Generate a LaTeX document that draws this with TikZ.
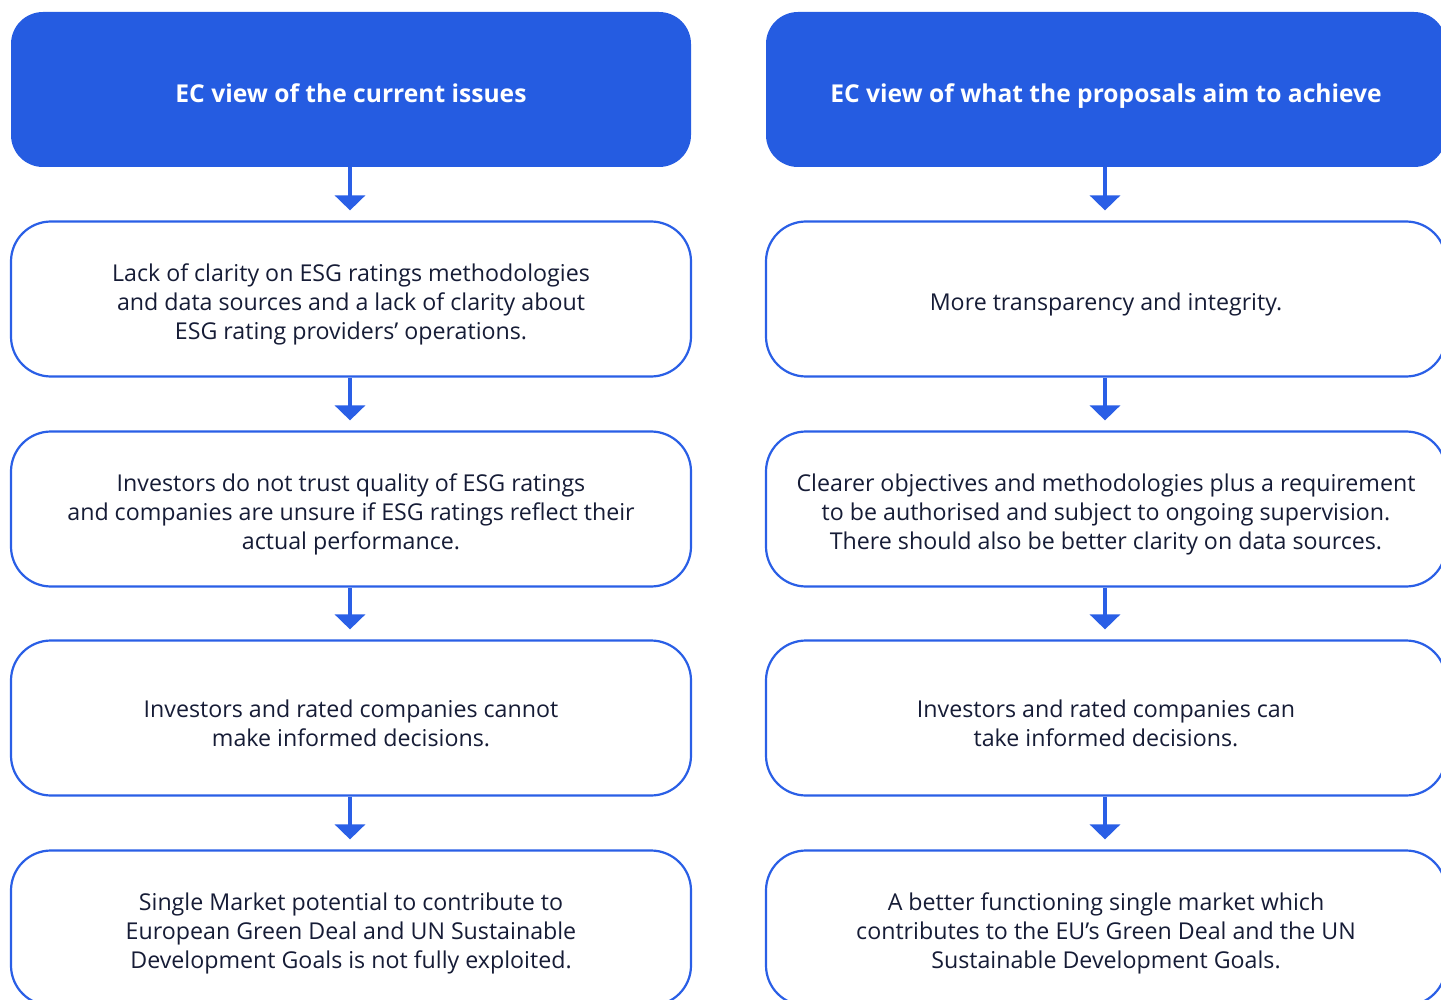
\documentclass[tikz,border=0pt]{standalone}
\usepackage{fontspec}
\setmainfont{Open Sans}
\usetikzlibrary{arrows.meta}
\definecolor{ecblue}{HTML}{255CE1}
\definecolor{ecline}{HTML}{2A5FE6}
\definecolor{ectext}{HTML}{161C36}
\begin{document}
\begin{tikzpicture}[x=1pt,y=-1pt,
  head/.style={fill=ecblue, draw=none, rounded corners=32pt, minimum width=680pt, minimum height=155pt, inner sep=0pt},
  headtxt/.style={text=white, font=\fontsize{24.6}{29}\selectfont\bfseries, align=center, inner sep=0pt, text depth=0pt},
  body/.style={fill=white, draw=ecline, line width=2.2pt, rounded corners=40pt, minimum width=680pt, minimum height=155pt, inner sep=0pt},
  bodytxt/.style={text=ectext, font=\fontsize{23.2}{29}\selectfont, align=center, inner sep=0pt},
  conn/.style={draw=ecline, line width=3.5pt, -{Triangle[width=30pt,length=15pt]}, shorten >=10pt}]
\useasboundingbox (0,0) rectangle (1441,1000);
\clip (0,0) rectangle (1441,1000);
\node[head] (L0) at (351,89.5) {};
\node[head] (R0) at (1106,89.5) {};
\node[body] (L1) at (351,299) {};
\node[body] (L2) at (351,509) {};
\node[body] (L3) at (351,718) {};
\node[body] (L4) at (351,928) {};
\node[body] (R1) at (1106,299) {};
\node[body] (R2) at (1106,509) {};
\node[body] (R3) at (1106,718) {};
\node[body] (R4) at (1106,928) {};
\node[headtxt] (L0t) at ([yshift=-4pt]L0.center) {EC view of the current issues};
\node[headtxt] (R0t) at ([yshift=-4pt]R0.center) {EC view of what the proposals aim to achieve};
\node[bodytxt] (L1t) at ([yshift=-5pt]L1.center) {Lack of clarity on ESG ratings methodologies\\and data sources and a lack of clarity about\\ESG rating providers’ operations.};
\node[bodytxt] (L2t) at ([yshift=-5pt]L2.center) {Investors do not trust quality of ESG ratings\\and companies are unsure if ESG ratings reflect their\\actual performance.};
\node[bodytxt] (L3t) at ([yshift=-5pt]L3.center) {Investors and rated companies cannot\\make informed decisions.};
\node[bodytxt] (L4t) at ([yshift=-5pt]L4.center) {Single Market potential to contribute to\\European Green Deal and UN Sustainable\\Development Goals is not fully exploited.};
\node[bodytxt] (R1t) at ([yshift=-5pt]R1.center) {More transparency and integrity.};
\node[bodytxt] (R2t) at ([yshift=-5pt]R2.center) {Clearer objectives and methodologies plus a requirement\\to be authorised and subject to ongoing supervision.\\There should also be better clarity on data sources.};
\node[bodytxt] (R3t) at ([yshift=-5pt]R3.center) {Investors and rated companies can\\take informed decisions.};
\node[bodytxt] (R4t) at ([yshift=-5pt]R4.center) {A better functioning single market which\\contributes to the EU’s Green Deal and the UN\\Sustainable Development Goals.};
\foreach \c in {L,R}{
  \draw[conn] ([xshift=-1pt]\c0.south) -- ([xshift=-1pt]\c1.north);
  \draw[conn] ([xshift=-1pt]\c1.south) -- ([xshift=-1pt]\c2.north);
  \draw[conn] ([xshift=-1pt]\c2.south) -- ([xshift=-1pt]\c3.north);
  \draw[conn] ([xshift=-1pt]\c3.south) -- ([xshift=-1pt]\c4.north);
}
\end{tikzpicture}
\end{document}
